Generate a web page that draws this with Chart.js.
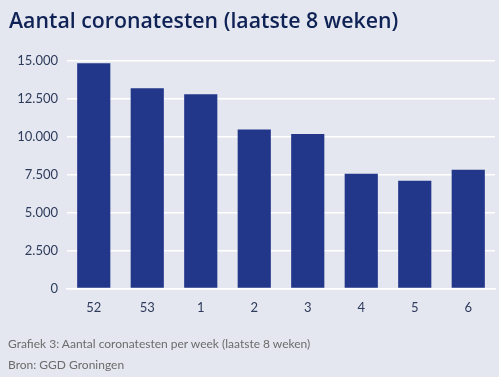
<!DOCTYPE html>
<html>
<head>
<meta charset="utf-8">
<script src="https://cdn.jsdelivr.net/npm/chart.js@4.4.0/dist/chart.umd.min.js"></script>
<style>
    html, body { margin: 0; padding: 0; background: #e4e7ef; }
    #wrap { position: relative; width: 499px; height: 377px; overflow: hidden; }
    #title { position: absolute; left: 9px; top: 5px; font-family: "Open Sans", sans-serif; font-weight: 600;
        font-size: 21.3px; color: #0f2255; white-space: nowrap; }
    .note { position: absolute; left: 8px; font-family: Lato, sans-serif; font-size: 12px; color: #6b6b6b; white-space: nowrap; }
    #chart_div { position: absolute; left: 0; top: 0; width: 499px; height: 377px; }
</style>
</head>
<body>
<div id="wrap">
    <div id="chart_div"><canvas id="visualization_div" width="499" height="377"></canvas></div>
    <div id="title">Aantal coronatesten (laatste 8 weken)</div>
    <div class="note" style="top:336px">Grafiek 3: Aantal coronatesten per week (laatste 8 weken)</div>
    <div class="note" style="top:357px">Bron: GGD Groningen</div>
</div>
<script>
    // weeknummers en aantal testen
    let week_labels = ['52', '53', '1', '2', '3', '4', '5', '6'];
    let test_counts = [14850, 13200, 12800, 10480, 10180, 7570, 7100, 7830];
    let y_ticks = [0, 2500, 5000, 7500, 10000, 12500, 15000];

    function format_nl(value) {
        return value.toString().replace(/\B(?=(\d{3})+(?!\d))/g, '.');
    }

    const tick_color = '#2e3b5c';
    const config = {
        type: 'bar',
        data: {
            labels: week_labels,
            datasets: [{
                label: 'Aantal coronatesten',
                data: test_counts,
                backgroundColor: '#22368a',
                borderWidth: 0,
                barPercentage: 0.62,
                categoryPercentage: 1.0
            }]
        },
        options: {
            animation: false,
            responsive: false,
            layout: {
                padding: {top: 61, bottom: 57, left: 0, right: 4}
            },
            plugins: {
                legend: {display: false},
                tooltip: {enabled: false}
            },
            scales: {
                x: {
                    grid: {display: false},
                    border: {display: true, color: '#ffffff', width: 1.5},
                    ticks: {color: tick_color, font: {family: 'Lato', size: 13}, padding: 4}
                },
                y: {
                    min: 0,
                    max: 15000,
                    afterFit: function (scale) { scale.width = 67; },
                    afterBuildTicks: function (scale) {
                        scale.ticks = y_ticks.map(v => ({value: v}));
                    },
                    grid: {color: '#ffffff', lineWidth: 1.5, drawTicks: false},
                    border: {display: false},
                    ticks: {
                        color: tick_color, font: {family: 'Lato', size: 13}, padding: 9,
                        callback: function (value) { return format_nl(value); }
                    }
                }
            }
        }
    };
    new Chart(document.getElementById('visualization_div').getContext('2d'), config);
</script>
</body>
</html>
